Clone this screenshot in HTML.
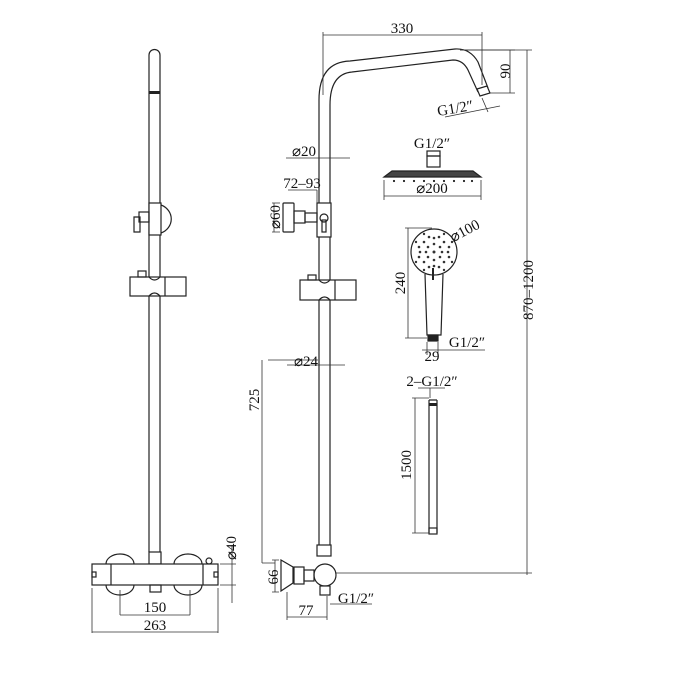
<!DOCTYPE html>
<html><head><meta charset="utf-8"><style>
html,body{margin:0;padding:0;background:#fff;}
svg{display:block;}
text{font-family:"Liberation Serif",serif;fill:#111;font-size:15px;text-anchor:middle;}
</style></head><body>
<svg width="680" height="700" viewBox="0 0 680 700" xmlns="http://www.w3.org/2000/svg">
<g fill="none" stroke="#222" stroke-width="1.2">
<!-- LEFT VIEW -->
<path d="M149,552 V55 A5.5,5.5 0 0 1 160,55 V552"/>
<rect x="149" y="91" width="11" height="3" fill="#222" stroke="none"/>
<path d="M161,205 A16,15 0 0 1 161,233"/>
<rect x="149" y="203" width="12" height="32" fill="#fff"/>
<rect x="139" y="212" width="10" height="10"/>
<path d="M134,217 h6 v15 h-6 z"/>
<rect x="130" y="277" width="56" height="19" fill="#fff"/>
<line x1="165" y1="277" x2="165" y2="296"/>
<rect x="138" y="271" width="8" height="6"/>
<path d="M149,277 q5.5,6 11,0 M149,296 q5.5,-6 11,0"/>
<rect x="149" y="552" width="12" height="12"/>
<path d="M106,564 a14,10 0 0 1 28,0 M106,585 a14,10 0 0 0 28,0 M174,564 a14,10 0 0 1 28,0 M174,585 a14,10 0 0 0 28,0"/>
<rect x="92" y="564" width="126" height="21" fill="#fff"/>
<line x1="111" y1="564" x2="111" y2="585"/><line x1="203" y1="564" x2="203" y2="585"/>
<rect x="92" y="572" width="4" height="5"/><rect x="214" y="572" width="4" height="5"/>
<rect x="150" y="585" width="11" height="7"/>
<circle cx="209" cy="561" r="3"/>
</g>
<g fill="none" stroke="#333" stroke-width="0.8">
<path d="M120,590 V615 M190,590 V615 M120,615 H190"/>
<path d="M92,588 V633 M218,588 V633 M92,632 H218"/>
<path d="M220,564 H236 M220,585 H236 M232,545 V603"/>
</g>
<text x="155" y="612">150</text>
<text x="155" y="630">263</text>
<text transform="translate(236,548) rotate(-90)">⌀40</text>

<!-- MIDDLE VIEW -->
<g fill="none" stroke="#222" stroke-width="1.2">
<path d="M319,545 V100 Q319,62 350,61 L455,49 Q470,48 478,62 L488,88"/>
<path d="M330,545 V105 Q330,74 352,72 L453,60 Q463,60 468,70 L478,92"/>
<path d="M477,89 l10,-3 l3,7 l-10,3 z" fill="#fff"/>
<rect x="317" y="203" width="14" height="34" fill="#fff"/>
<circle cx="324" cy="218" r="4"/>
<rect x="322" y="220" width="4" height="12"/>
<rect x="283" y="203" width="11" height="29" rx="1"/>
<rect x="294" y="211" width="11" height="12"/>
<rect x="305" y="213" width="12" height="9"/>
<rect x="300" y="280" width="56" height="20" fill="#fff"/>
<line x1="335" y1="280" x2="335" y2="300"/>
<rect x="308" y="275" width="8" height="5"/>
<path d="M319,280 q5.5,6 11,0 M319,300 q5.5,-6 11,0"/>
<rect x="317" y="545" width="14" height="11" fill="#fff"/>
<circle cx="325" cy="575" r="11"/>
<path d="M281,560 L293,567 V583 L281,591 Z"/>
<rect x="294" y="567" width="10" height="17"/>
<rect x="304" y="570" width="10" height="11"/>
<rect x="320" y="586" width="10" height="9" fill="#fff"/>
<!-- rain head -->
<rect x="427" y="151" width="13" height="5"/>
<rect x="427" y="156" width="13" height="11"/>
<path d="M384,177 L392,171 H473 L481,177 Z" fill="#444"/>
<!-- hand shower -->
<circle cx="434" cy="252" r="23"/>
<path d="M425,274 L427,335 H441 L443,274"/>
<rect x="428" y="335" width="10" height="6" fill="#222"/>
<line x1="433" y1="268" x2="433" y2="280" stroke-width="2"/>
<!-- hose -->
<path d="M429,400 V533 M437,400 V533 M429,400 H437"/>
<rect x="429" y="403" width="8" height="3" fill="#222" stroke="none"/>
<rect x="429" y="528" width="8" height="6"/>
</g>
<g fill="#222">
<circle cx="394" cy="181" r="1.1"/><circle cx="404" cy="181" r="1.1"/><circle cx="414" cy="181" r="1.1"/><circle cx="424" cy="181" r="1.1"/><circle cx="434" cy="181" r="1.1"/><circle cx="444" cy="181" r="1.1"/><circle cx="454" cy="181" r="1.1"/><circle cx="464" cy="181" r="1.1"/><circle cx="472" cy="181" r="1.1"/>
</g>
<g fill="#333">
<circle cx="434" cy="252" r="1.5"/>
<circle cx="434" cy="238" r="1.3"/><circle cx="434" cy="244" r="1.3"/><circle cx="434" cy="260" r="1.3"/><circle cx="434" cy="266" r="1.3"/>
<circle cx="420" cy="252" r="1.3"/><circle cx="426" cy="252" r="1.3"/><circle cx="442" cy="252" r="1.3"/><circle cx="448" cy="252" r="1.3"/>
<circle cx="424" cy="242" r="1.3"/><circle cx="444" cy="242" r="1.3"/><circle cx="424" cy="262" r="1.3"/><circle cx="444" cy="262" r="1.3"/>
<circle cx="428" cy="247" r="1.3"/><circle cx="440" cy="247" r="1.3"/><circle cx="428" cy="257" r="1.3"/><circle cx="440" cy="257" r="1.3"/>
<circle cx="429" cy="237" r="1.3"/><circle cx="439" cy="237" r="1.3"/><circle cx="419" cy="247" r="1.3"/><circle cx="449" cy="247" r="1.3"/>
<circle cx="419" cy="257" r="1.3"/><circle cx="449" cy="257" r="1.3"/><circle cx="429" cy="267" r="1.3"/><circle cx="439" cy="267" r="1.3"/>
<circle cx="424" cy="234" r="1.2"/><circle cx="444" cy="234" r="1.2"/><circle cx="416" cy="242" r="1.2"/><circle cx="452" cy="242" r="1.2"/>
<circle cx="416" cy="262" r="1.2"/><circle cx="452" cy="262" r="1.2"/><circle cx="424" cy="270" r="1.2"/><circle cx="444" cy="270" r="1.2"/>
</g>
<g fill="none" stroke="#333" stroke-width="0.8">
<path d="M323,32 V95 M482,32 V85 M323,35 H482"/>
<path d="M460,50 H515 M490,93 H515 M510,50 V93"/>
<path d="M460,50 H532 M335,573 H532 M527,50 V575"/>
<path d="M482,98 L488,112 M445,117 L500,106"/>
<path d="M286,158 H350"/>
<path d="M288,190 H317 M317,190 V203"/>
<path d="M280,203 H272 M280,232 H272 M274,203 V232"/>
<path d="M384,180 V200 M481,180 V200 M384,196 H481"/>
<path d="M405,228 H432 M405,338 H427 M408,228 V338"/>
<path d="M427,342 V355 M438,342 V355 M422,350 H485"/>
<path d="M287,365 H345"/>
<path d="M268,360 H318 M262,360 V563 M262,563 H275"/>
<path d="M412,398 H429 M412,533 H429 M415,398 V533"/>
<path d="M418,388 H445 M430,388 V398"/>
<path d="M279,560 H272 M279,592 H272 M275,560 V592"/>
<path d="M287,592 V620 M327,596 V620 M287,617 H327"/>
<path d="M330,604 H372"/>
</g>
<text x="402" y="33">330</text>
<text transform="translate(510,71) rotate(-90)">90</text>
<text transform="translate(533,290) rotate(-90)">870–1200</text>
<text transform="translate(456,113) rotate(-10)">G1/2″</text>
<text x="432" y="148">G1/2″</text>
<text x="304" y="156">⌀20</text>
<text x="302" y="188">72–93</text>
<text transform="translate(280,217) rotate(-90)">⌀60</text>
<text x="432" y="193">⌀200</text>
<text transform="translate(467,235) rotate(-28)">⌀100</text>
<text transform="translate(405,283) rotate(-90)">240</text>
<text x="467" y="347">G1/2″</text>
<text x="432" y="361">29</text>
<text x="306" y="366">⌀24</text>
<text transform="translate(259,400) rotate(-90)">725</text>
<text x="432" y="386">2–G1/2″</text>
<text transform="translate(411,465) rotate(-90)">1500</text>
<text transform="translate(278,577) rotate(-90)">66</text>
<text x="306" y="615">77</text>
<text x="356" y="603">G1/2″</text>
</svg>
</body></html>
